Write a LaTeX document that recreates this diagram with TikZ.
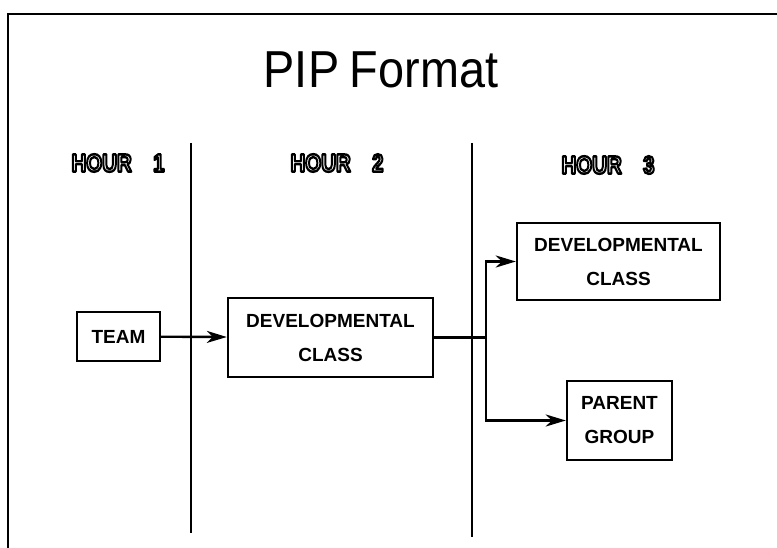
\documentclass[tikz,border=0pt]{standalone}
\usepackage{fontspec}
\setmainfont{Liberation Sans}
\usepackage{graphicx}
\usetikzlibrary{arrows.meta}
% hollow stencil-like lettering: stroke the glyph outlines only
\newcommand{\hollow}[1]{\special{pdf:literal direct 1 Tr 2.4 w 1 j 1 J}#1\special{pdf:literal direct 0 Tr}}
\newcommand{\hourlabel}[1]{\scalebox{0.82}[1]{\hollow{HOUR\hspace{26pt}#1}}}
\begin{document}
\begin{tikzpicture}[x=1pt,y=-1pt,
  rule/.style={line width=2.4pt},
  box/.style={draw, line width=2.4pt, inner sep=0pt, align=center,
    font=\fontsize{19}{34}\selectfont\bfseries},
  flow/.style={line width=2.4pt, -{Stealth[length=20pt,width=12pt,inset=6pt]}},
  hour/.style={inner sep=0pt, font=\fontsize{25}{25}\selectfont\bfseries}]
  \useasboundingbox (0,0) rectangle (777,548);
  % sheet edge
  \draw[rule] (8,548) -- (8,14) -- (777,14);
  % title
  \node[inner sep=0pt, font=\fontsize{52}{52}\selectfont] (title) at (381,70)
    {\scalebox{0.9}[1]{PIP\hspace{12pt}Format}};
  % hour columns
  \node[hour] (h1) at (118,163) {\hourlabel{1}};
  \node[hour] (h2) at (337,163) {\hourlabel{2}};
  \node[hour] (h3) at (608,165) {\hourlabel{3}};
  \draw[rule] (191,143) -- (191,533);
  \draw[rule] (472,143) -- (472,537);
  % activity boxes
  \node[box, minimum width=83pt, minimum height=49pt] (team) at (118.5,336.5) {TEAM};
  \node[box, minimum width=205pt, minimum height=79pt] (dev) at (330.5,337.5) {DEVELOPMENTAL\\CLASS};
  \node[box, minimum width=203pt, minimum height=77pt] (dev2) at (618.5,261.5) {DEVELOPMENTAL\\CLASS};
  \node[box, minimum width=105pt, minimum height=79pt] (parent) at (619.5,420.5) {PARENT\\GROUP};
  % connectors
  \coordinate (split) at (486,337.5);
  \draw[flow] (team) -- (dev);
  \draw[rule] (dev.east) -- (split);
  \draw[flow] (split) |- (dev2.west);
  \draw[flow] (split) |- (parent.west);
\end{tikzpicture}
\end{document}
